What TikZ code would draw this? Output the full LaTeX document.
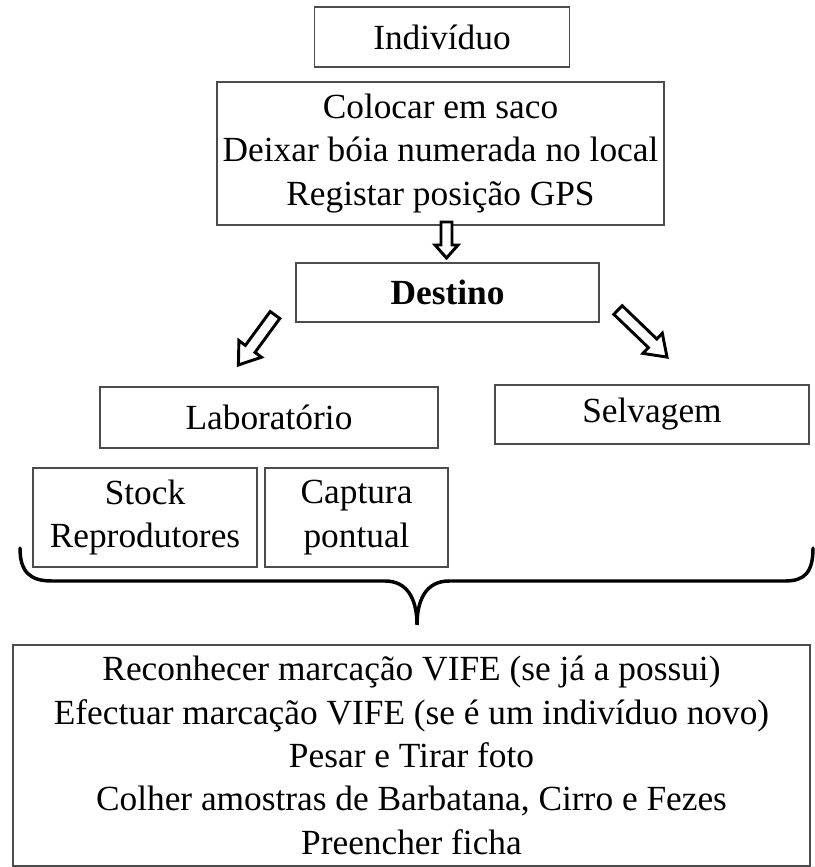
\documentclass[tikz,border=0pt]{standalone}
\usepackage{fontspec}
\setmainfont{Liberation Serif}
\begin{document}
\begin{tikzpicture}[x=0.75pt, y=-0.75pt, font=\fontsize{26.5}{32.5}\selectfont,
    caixa/.style={draw=black!70, line width=1.1pt, align=center, inner sep=0pt},
    seta/.style={draw=black, line width=2.2pt, line join=miter, fill=white},
    chaveta/.style={draw=black, line width=2.6pt, line cap=round}]

    \useasboundingbox (0,0) rectangle (814,867);

    % 1. Individuo e primeiros passos
    \node[caixa, minimum width=191.25pt, minimum height=45pt] (indiv) at (442,37) {Indivíduo};
    \node[caixa, minimum width=335.25pt, minimum height=107.25pt] (passos) at (440.5,153.5)
        {Colocar em saco\\Deixar bóia numerada no local\\Registar posição GPS};

    % 2. Destino
    \draw[seta] (441,222) -- (452,222) -- (452,245) -- (458,245) -- (446.5,258) -- (435,245) -- (441,245) -- cycle;
    \node[caixa, minimum width=227.25pt, minimum height=44.25pt] (destino) at (447.5,292.5) {\textbf{Destino}};

    % setas diagonais (ocas)
    \draw[seta] (270.2,311.5) -- (279.8,318.5) -- (255.0,352.4) -- (261.5,357.2) -- (238.4,365.0) -- (238.9,340.6) -- (245.4,345.4) -- cycle;
    \draw[seta] (613.8,314.3) -- (622.2,305.7) -- (656.8,339.0) -- (662.3,333.2) -- (667.0,357.1) -- (642.9,353.4) -- (648.4,347.6) -- cycle;

    % 3. Laboratorio / Selvagem
    \node[caixa, minimum width=253.5pt, minimum height=45.75pt] (lab) at (269,417.5) {Laboratório};
    \node[caixa, minimum width=235.5pt, minimum height=44.25pt] (selv) at (652,414.5) {Selvagem};

    \node[caixa, minimum width=168pt, minimum height=74.25pt] (stock) at (145,517.5) {Stock\\Reprodutores};
    \node[caixa, minimum width=137.25pt, minimum height=74.25pt] (captura) at (356.5,517.5) {Captura\\pontual};

    % 4. Chaveta
    \draw[chaveta] (20,548) .. controls (20,572) and (30,581) .. (52,581) -- (385,581)
        .. controls (408,581) and (417,600) .. (417,625)
        .. controls (417,600) and (426,581) .. (449,581) -- (785,581)
        .. controls (805,581) and (813,572) .. (813,548);

    % 5. Procedimentos finais
    \node[caixa, minimum width=597.75pt, minimum height=165.75pt] (registo) at (411.5,755.5)
        {Reconhecer marcação VIFE (se já a possui)\\
         Efectuar marcação VIFE (se é um indivíduo novo)\\
         Pesar e Tirar foto\\
         Colher amostras de Barbatana, Cirro e Fezes\\
         Preencher ficha};

\end{tikzpicture}
\end{document}
